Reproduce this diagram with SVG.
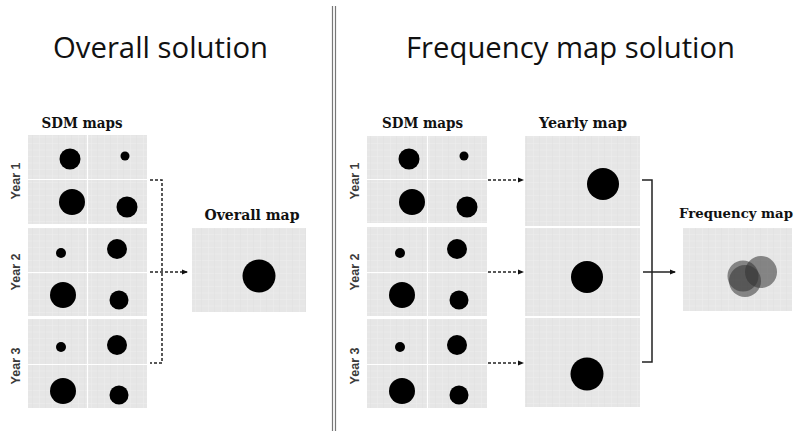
<svg xmlns="http://www.w3.org/2000/svg" width="798" height="431" viewBox="0 0 798 431">
<defs>
<pattern id="grid" width="13" height="6.5" patternUnits="userSpaceOnUse">
<rect width="13" height="6.5" fill="#e6e6e6"/>
<path d="M0 0.25H13M0.25 0V6.5" stroke="#eeeeee" stroke-width="0.6"/>
<path d="M6.5 0V6.5" stroke="#e0e0e0" stroke-width="0.5"/>
</pattern>
<marker id="ah" markerWidth="6" markerHeight="6" refX="5" refY="3" orient="auto" markerUnits="userSpaceOnUse">
<path d="M0 0.5L6 3L0 5.5Z" fill="#111"/>
</marker>
</defs>
<style>
.title{font-family:"Open Sans","Noto Sans",sans-serif;font-size:30px;fill:#111}
.lab{font-family:"DejaVu Serif",serif;font-weight:bold;font-size:15px;fill:#111;text-anchor:middle}
.yr{font-family:"Liberation Sans",Arial,sans-serif;font-weight:bold;font-size:12.5px;fill:#3a3a3a;text-anchor:middle}
.panel{fill:url(#grid)}
.div{stroke:#ffffff;stroke-width:1.2}
.dot{fill:#000}
.dash{fill:none;stroke:#222;stroke-width:1.5;stroke-dasharray:3 2}
.solid{fill:none;stroke:#222;stroke-width:1.5}
.freq{fill:#333;fill-opacity:0.55}
</style>
<rect width="798" height="431" fill="#ffffff"/>
<g id="divider">
<line x1="332.5" y1="6" x2="332.5" y2="431" stroke="#777" stroke-width="1.2"/>
<line x1="335.5" y1="6" x2="335.5" y2="431" stroke="#777" stroke-width="1.2"/>
</g>
<g id="titles">
<text class="title" x="53" y="58" textLength="215" lengthAdjust="spacingAndGlyphs">Overall solution</text>
<text class="title" x="406" y="58" textLength="329" lengthAdjust="spacingAndGlyphs">Frequency map solution</text>
</g>
<g id="left-sdm">
<text class="lab" x="82" y="128" textLength="81" lengthAdjust="spacingAndGlyphs">SDM maps</text>
<g id="left-year1">
<text class="yr" transform="translate(20 181) rotate(-90)">Year 1</text>
<rect class="panel" x="28" y="135" width="119" height="89"/>
<line class="div" x1="87.5" y1="135" x2="87.5" y2="224"/>
<line class="div" x1="28" y1="179.5" x2="147" y2="179.5"/>
<circle class="dot" cx="70" cy="159" r="10.5"/>
<circle class="dot" cx="125" cy="156" r="4.5"/>
<circle class="dot" cx="72" cy="202" r="13"/>
<circle class="dot" cx="127" cy="207" r="10.5"/>
</g>
<g id="left-year2">
<text class="yr" transform="translate(20 272) rotate(-90)">Year 2</text>
<rect class="panel" x="28" y="228" width="119" height="88"/>
<line class="div" x1="87.5" y1="228" x2="87.5" y2="316"/>
<line class="div" x1="28" y1="272.5" x2="147" y2="272.5"/>
<circle class="dot" cx="61" cy="253" r="5"/>
<circle class="dot" cx="117" cy="249" r="10"/>
<circle class="dot" cx="63" cy="295" r="13"/>
<circle class="dot" cx="119" cy="300" r="9.5"/>
</g>
<g id="left-year3">
<text class="yr" transform="translate(20 366) rotate(-90)">Year 3</text>
<rect class="panel" x="28" y="319" width="119" height="89"/>
<line class="div" x1="87.5" y1="319" x2="87.5" y2="408"/>
<line class="div" x1="28" y1="364.5" x2="147" y2="364.5"/>
<circle class="dot" cx="61" cy="347" r="5"/>
<circle class="dot" cx="117" cy="345" r="10"/>
<circle class="dot" cx="63" cy="391" r="13"/>
<circle class="dot" cx="119" cy="395" r="9.5"/>
</g>
</g>
<g id="overall-map">
<text class="lab" x="252" y="220" textLength="95" lengthAdjust="spacingAndGlyphs">Overall map</text>
<rect class="panel" x="192" y="228" width="114" height="84"/>
<circle class="dot" cx="259" cy="276" r="16.5"/>
</g>
<g id="right-sdm">
<text class="lab" x="422.5" y="128" textLength="81" lengthAdjust="spacingAndGlyphs">SDM maps</text>
<g id="right-year1">
<text class="yr" transform="translate(359 181) rotate(-90)">Year 1</text>
<rect class="panel" x="367" y="136" width="120" height="87"/>
<line class="div" x1="427.5" y1="136" x2="427.5" y2="223"/>
<line class="div" x1="367" y1="179.5" x2="487" y2="179.5"/>
<circle class="dot" cx="409" cy="159" r="10.5"/>
<circle class="dot" cx="464" cy="156" r="4.5"/>
<circle class="dot" cx="412" cy="202" r="13"/>
<circle class="dot" cx="467" cy="207" r="10.5"/>
</g>
<g id="right-year2">
<text class="yr" transform="translate(359 272) rotate(-90)">Year 2</text>
<rect class="panel" x="367" y="227" width="120" height="89"/>
<line class="div" x1="427.5" y1="227" x2="427.5" y2="316"/>
<line class="div" x1="367" y1="272.5" x2="487" y2="272.5"/>
<circle class="dot" cx="400" cy="253" r="5"/>
<circle class="dot" cx="457" cy="249" r="10"/>
<circle class="dot" cx="402" cy="295" r="13"/>
<circle class="dot" cx="459" cy="300" r="9.5"/>
</g>
<g id="right-year3">
<text class="yr" transform="translate(359 366) rotate(-90)">Year 3</text>
<rect class="panel" x="367" y="319" width="120" height="89"/>
<line class="div" x1="427.5" y1="319" x2="427.5" y2="408"/>
<line class="div" x1="367" y1="364.5" x2="487" y2="364.5"/>
<circle class="dot" cx="400" cy="347" r="5"/>
<circle class="dot" cx="457" cy="345" r="10"/>
<circle class="dot" cx="402" cy="391" r="13"/>
<circle class="dot" cx="459" cy="395" r="9.5"/>
</g>
</g>
<g id="yearly-map">
<text class="lab" x="583" y="128" textLength="88" lengthAdjust="spacingAndGlyphs">Yearly map</text>
<g id="yearly1">
<rect class="panel" x="525" y="136" width="115" height="90"/>
<circle class="dot" cx="603" cy="184" r="16"/>
</g>
<g id="yearly2">
<rect class="panel" x="525" y="228" width="115" height="88"/>
<circle class="dot" cx="587" cy="277" r="16"/>
</g>
<g id="yearly3">
<rect class="panel" x="525" y="318" width="115" height="89"/>
<circle class="dot" cx="587" cy="374" r="16.5"/>
</g>
</g>
<g id="frequency-map">
<text class="lab" x="736" y="218" style="font-size:13.5px" textLength="114" lengthAdjust="spacingAndGlyphs">Frequency map</text>
<rect class="panel" x="683" y="228" width="109" height="83"/>
<circle class="freq" cx="761" cy="272" r="16"/>
<circle class="freq" cx="743" cy="276" r="15.5"/>
<circle class="freq" cx="745" cy="281" r="16"/>
</g>
<g id="connectors">
<path class="dash" d="M150 180H162V363H150"/>
<path class="dash" d="M150 272H187" marker-end="url(#ah)"/>
<path class="dash" d="M488 180H523" marker-end="url(#ah)"/>
<path class="dash" d="M488 272H523" marker-end="url(#ah)"/>
<path class="dash" d="M488 363H523" marker-end="url(#ah)"/>
<path class="solid" d="M642 180H652V362H642"/>
<path class="solid" d="M643 272H675" marker-end="url(#ah)"/>
</g>
</svg>
